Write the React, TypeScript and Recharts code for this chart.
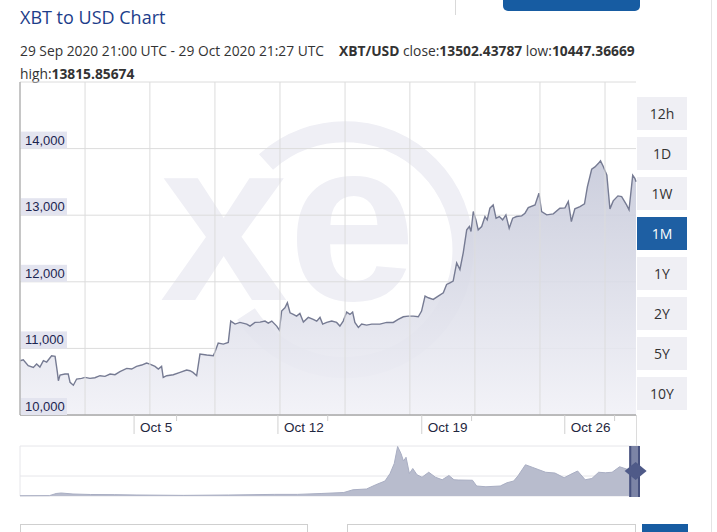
import React from 'react'
import {
  ComposedChart,
  AreaChart,
  Area,
  XAxis,
  YAxis,
  CartesianGrid,
  ReferenceLine,
  ReferenceArea,
} from 'recharts'

// days since 29 Sep 2020 21:00 UTC
const days = [
  0.0, 0.16, 0.4, 0.65, 0.81, 0.97, 1.14, 1.3, 1.54, 1.71,
  1.82, 1.87, 1.95, 2.19, 2.35, 2.44, 2.6, 2.76, 3.0, 3.17,
  3.41, 3.65, 3.9, 4.14, 4.39, 4.63, 4.87, 5.2, 5.44, 5.68,
  5.93, 6.17, 6.33, 6.58, 6.74, 6.9, 6.98, 7.15, 7.47, 7.8,
  8.12, 8.28, 8.43, 8.61, 8.77, 9.1, 9.42, 9.5, 9.66, 9.91,
  10.15, 10.27, 10.48, 10.72, 11.05, 11.21, 11.45, 11.7, 11.94, 12.1,
  12.27, 12.51, 12.64, 12.75, 12.91, 13.03, 13.16, 13.32, 13.48, 13.64,
  13.81, 14.05, 14.29, 14.46, 14.62, 14.75, 14.95, 15.19, 15.43, 15.59,
  15.75, 15.92, 16.08, 16.21, 16.32, 16.49, 16.65, 16.89, 17.14, 17.54,
  17.87, 18.19, 18.43, 18.68, 18.92, 19.17, 19.41, 19.57, 19.74, 19.9,
  20.14, 20.38, 20.63, 20.79, 20.95, 21.11, 21.28, 21.44, 21.6, 21.77,
  21.9, 21.98, 22.09, 22.22, 22.33, 22.5, 22.66, 22.77, 22.9, 23.06,
  23.2, 23.36, 23.52, 23.68, 23.84, 24.01, 24.2, 24.45, 24.61, 24.77,
  25.1, 25.29, 25.42, 25.67, 25.99, 26.31, 26.56, 26.72, 26.87, 27.04,
  27.29, 27.51, 27.65, 27.86, 28.02, 28.18, 28.29, 28.42, 28.6, 28.68,
  28.75, 28.91, 29.14, 29.32, 29.56, 29.68, 29.8, 29.86, 29.97, 30.02,
]

const prices = [
  10815, 10830, 10740, 10715, 10765, 10720, 10815, 10795, 10890, 10880,
  10645, 10515, 10600, 10615, 10615, 10490, 10447, 10540, 10550, 10565,
  10550, 10560, 10590, 10580, 10615, 10605, 10650, 10700, 10690, 10730,
  10750, 10780, 10765, 10730, 10690, 10730, 10565, 10590, 10605, 10640,
  10675, 10665, 10640, 10590, 10915, 10900, 10890, 10945, 11080, 11065,
  11090, 11410, 11365, 11390, 11365, 11335, 11390, 11395, 11410, 11380,
  11410, 11335, 11275, 11560, 11610, 11685, 11535, 11510, 11485, 11525,
  11395, 11465, 11435, 11410, 11465, 11365, 11390, 11410, 11390, 11335,
  11410, 11545, 11510, 11545, 11390, 11315, 11365, 11350, 11365, 11365,
  11390, 11390, 11435, 11475, 11485, 11485, 11475, 11560, 11785, 11760,
  11735, 11785, 11835, 11960, 11985, 12010, 12285, 12185, 12435, 12780,
  12830, 12755, 13055, 12930, 12780, 12830, 12980, 12930, 13105, 13155,
  12955, 12980, 12930, 13005, 12805, 12955, 12980, 12990, 13030, 13115,
  13155, 13330, 13055, 13005, 13020, 13105, 13110, 13205, 12905, 13095,
  13130, 13170, 13425, 13690, 13725, 13775, 13816, 13735, 13600, 13330,
  13095, 13215, 13290, 13280, 13155, 13080, 13425, 13600, 13550, 13502,
]

const xTickDays = [5.56, 12.57, 19.58, 26.55]
const xTickLabels = ['Oct 5', 'Oct 12', 'Oct 19', 'Oct 26']
const yTicks = [10000, 11000, 12000, 13000, 14000, 15000]
const gridDays = [3.17, 6.33, 9.5, 12.67, 15.84, 19.0, 22.17, 25.34, 28.51]
const ranges = ['12h', '1D', '1W', '1M', '1Y', '2Y', '5Y', '10Y']

// long history for the navigator
const navYears = [
  2013.47, 2013.82, 2013.9, 2013.96, 2014.1, 2014.31, 2014.59, 2014.86, 2015.41, 2015.95,
  2016.5, 2016.77, 2017.05, 2017.32, 2017.43, 2017.59, 2017.7, 2017.81, 2017.87, 2017.92,
  2017.96, 2018.0, 2018.03, 2018.06, 2018.1, 2018.14, 2018.19, 2018.25, 2018.33, 2018.41,
  2018.49, 2018.57, 2018.63, 2018.68, 2018.85, 2018.9, 2019.01, 2019.18, 2019.26, 2019.34,
  2019.39, 2019.48, 2019.56, 2019.64, 2019.72, 2019.83, 2019.94, 2020.02, 2020.1, 2020.19,
  2020.27, 2020.35, 2020.43, 2020.51, 2020.6, 2020.68, 2020.73, 2020.78, 2020.83,
]
const navValues = [
  100, 150, 1000, 1200, 800, 600, 550, 400, 250, 400,
  650, 650, 1000, 1400, 2500, 2800, 4500, 6000, 9000, 13000,
  19800, 17000, 14000, 15500, 9000, 11000, 8500, 7500, 9500, 7500,
  6500, 8200, 6500, 6400, 6300, 4000, 3700, 4000, 5300, 6000,
  8000, 12500, 11500, 10500, 9500, 9200, 7300, 8700, 10000, 6500,
  7000, 9500, 9300, 9500, 11700, 10800, 10500, 13000, 13500,
]
const navGridYears = [
  2013.47, 2013.82, 2014.19, 2014.56, 2014.93, 2015.3, 2015.67, 2016.02, 2016.39, 2016.76,
  2017.13, 2017.5, 2017.86, 2018.23, 2018.6, 2018.97, 2019.33, 2019.7, 2020.07, 2020.44,
]
const navGridValues = [0, 4000, 8000, 12000, 16000, 20000]

const data = days.map((day, i) => ({ day, price: prices[i] }))
const navData = navYears.map((year, i) => ({ year, value: navValues[i] }))

const PLOT_LEFT = 20
const AXIS_FONT = "'Liberation Sans', Arial, sans-serif"
const UI_FONT = "'Open Sans', 'Noto Sans', sans-serif"
const BLUE = '#175ca2'

function DateTick(props: any) {
  const { x, y, payload } = props
  const label = xTickLabels[xTickDays.indexOf(payload.value)] ?? ''
  const w = label.length * 7.3 + 6
  return (
    <g>
      <line x1={x} y1={y} x2={x} y2={y + 19} stroke="#d0d0d0" />
      <line x1={x + w} y1={y} x2={x + w} y2={y + 6} stroke="#d0d0d0" />
      <text x={x + 6} y={y + 17} fontSize={13.5} fontFamily={AXIS_FONT} fill="#1f2740">
        {label}
      </text>
    </g>
  )
}

function PriceTick(props: any) {
  const { y, payload } = props
  if (payload.value >= 15000) return <g />
  return (
    <g>
      <rect x={PLOT_LEFT + 1} y={y - 17} width={46} height={17} fill="#e3e4ef" />
      <text x={PLOT_LEFT + 5} y={y - 4} fontSize={13} fontFamily={AXIS_FONT} fill="#1c2550">
        {payload.value.toLocaleString('en-US')}
      </text>
    </g>
  )
}

function Handle(props: any) {
  const { x, y, width, height } = props
  const cx = x + width / 2
  const cy = y + height / 2
  return (
    <g>
      <rect x={x - 3} y={y} width={width + 4} height={height + 1} fill="#7c84a6" />
      <line x1={x - 2} y1={y} x2={x - 2} y2={y + height + 1} stroke="#48527f" strokeWidth={2} />
      <line x1={x + width} y1={y} x2={x + width} y2={y + height + 1} stroke="#48527f" strokeWidth={2} />
      <polygon
        points={`${cx - 11},${cy} ${cx},${cy - 9} ${cx + 11},${cy} ${cx},${cy + 9}`}
        fill="#4f5a88"
      />
    </g>
  )
}

function Watermark() {
  return (
    <svg width={717} height={450} style={{ position: 'absolute', left: 0, top: 0 }}>
      <path
        d="M 266 162 A 118 118 0 1 1 246 314"
        fill="none"
        stroke="#efeff5"
        strokeWidth={21}
      />
      <text x={160} y={300} fontSize={230} fontWeight={700} fontFamily={AXIS_FONT} fill="#efeff5">
        xe
      </text>
    </svg>
  )
}

export default function App() {
  return (
    <div
      style={{
        position: 'absolute',
        left: 0,
        top: 0,
        width: 717,
        height: 532,
        overflow: 'hidden',
        background: '#fff',
        fontFamily: UI_FONT,
      }}
    >
      <div style={{ position: 'absolute', left: 503, top: 0, width: 137, height: 11, borderRadius: '0 0 5px 5px', background: BLUE }} />
      <div style={{ position: 'absolute', left: 455, top: 0, width: 1, height: 15, background: '#d9d9d9' }} />
      <div style={{ position: 'absolute', left: 711, top: 0, width: 1, height: 532, background: '#e4e4e4' }} />

      <div style={{ position: 'absolute', left: 20, top: 4, fontSize: 18, lineHeight: '26px', color: '#1c3d8a', whiteSpace: 'nowrap' }}>
        XBT to USD Chart
      </div>
      <div style={{ position: 'absolute', left: 20, top: 39, fontSize: 13.8, lineHeight: '23px', color: '#333', whiteSpace: 'nowrap' }}>
        29 Sep 2020 21:00 UTC - 29 Oct 2020 21:27 UTC
        <span style={{ marginLeft: 15 }}>
          <b>XBT/USD</b> close:<b>13502.43787</b> low:<b>10447.36669</b>
        </span>
        <br />
        high:<b>13815.85674</b>
      </div>

      <Watermark />
      <div style={{ position: 'absolute', left: 0, top: 0 }}>
        <ComposedChart width={717} height={450} data={data} margin={{ top: 82, right: 81, bottom: 0, left: PLOT_LEFT - 1 }}>
          <defs>
            <linearGradient id="mainFill" x1="0" y1="82" x2="0" y2="415" gradientUnits="userSpaceOnUse">
              <stop offset="0%" stopColor="#b7bbcf" />
              <stop offset="100%" stopColor="#f1f1f7" />
            </linearGradient>
          </defs>
          <CartesianGrid vertical={false} stroke="#dcdcdc" />
          {gridDays.map((d) => (
            <ReferenceLine key={d} x={d} stroke="#dcdcdc" />
          ))}
          <Area
            type="linear"
            dataKey="price"
            stroke="#767b93"
            strokeWidth={1.4}
            fill="url(#mainFill)"
            fillOpacity={0.88}
            dot={false}
            activeDot={false}
            isAnimationActive={false}
          />
          <XAxis
            dataKey="day"
            type="number"
            domain={[0, 30.02]}
            ticks={xTickDays}
            tick={<DateTick />}
            tickLine={false}
            tickSize={0}
            tickMargin={0}
            height={35}
            axisLine={{ stroke: '#a9a9a9', strokeWidth: 1.5 }}
            interval={0}
          />
          <YAxis
            type="number"
            domain={[10000, 15000]}
            ticks={yTicks}
            tick={<PriceTick />}
            tickLine={false}
            width={1}
            axisLine={{ stroke: '#b3b3b3', strokeWidth: 1.5 }}
            interval={0}
          />
        </ComposedChart>
      </div>

      {ranges.map((r, i) => (
        <div
          key={r}
          style={{
            position: 'absolute',
            left: 637,
            top: 97 + i * 40,
            width: 50,
            height: 33,
            lineHeight: '33px',
            textAlign: 'center',
            fontSize: 14,
            background: r === '1M' ? '#1e5fa3' : '#efeff4',
            color: r === '1M' ? '#fff' : '#333',
          }}
        >
          {r}
        </div>
      ))}

      <div style={{ position: 'absolute', left: 636, top: 415, width: 1, height: 31, background: '#dcdcdc' }} />

      <div style={{ position: 'absolute', left: 0, top: 440 }}>
        <AreaChart width={717} height={60} data={navData} margin={{ top: 6, right: 78, bottom: 4, left: PLOT_LEFT }}>
          <CartesianGrid stroke="#e6e6ea" />
          <Area
            type="linear"
            dataKey="value"
            stroke="#a9aec3"
            strokeWidth={1}
            fill="#b8bccd"
            fillOpacity={1}
            dot={false}
            activeDot={false}
            isAnimationActive={false}
          />
          <ReferenceArea x1={2020.75} x2={2020.83} shape={<Handle />} ifOverflow="visible" />
          <XAxis
            dataKey="year"
            type="number"
            domain={[2013.47, 2020.83]}
            ticks={navGridYears}
            tick={false}
            tickLine={false}
            height={0}
            axisLine={{ stroke: '#a9a9a9' }}
          />
          <YAxis type="number" domain={[0, 20000]} ticks={navGridValues} hide />
        </AreaChart>
      </div>

      <div style={{ position: 'absolute', left: 20, top: 524, width: 286, height: 20, border: '1px solid #cfcfcf' }} />
      <div style={{ position: 'absolute', left: 347, top: 524, width: 287, height: 20, border: '1px solid #cfcfcf' }} />
      <div style={{ position: 'absolute', left: 642, top: 524, width: 46, height: 20, background: BLUE }} />
    </div>
  )
}
